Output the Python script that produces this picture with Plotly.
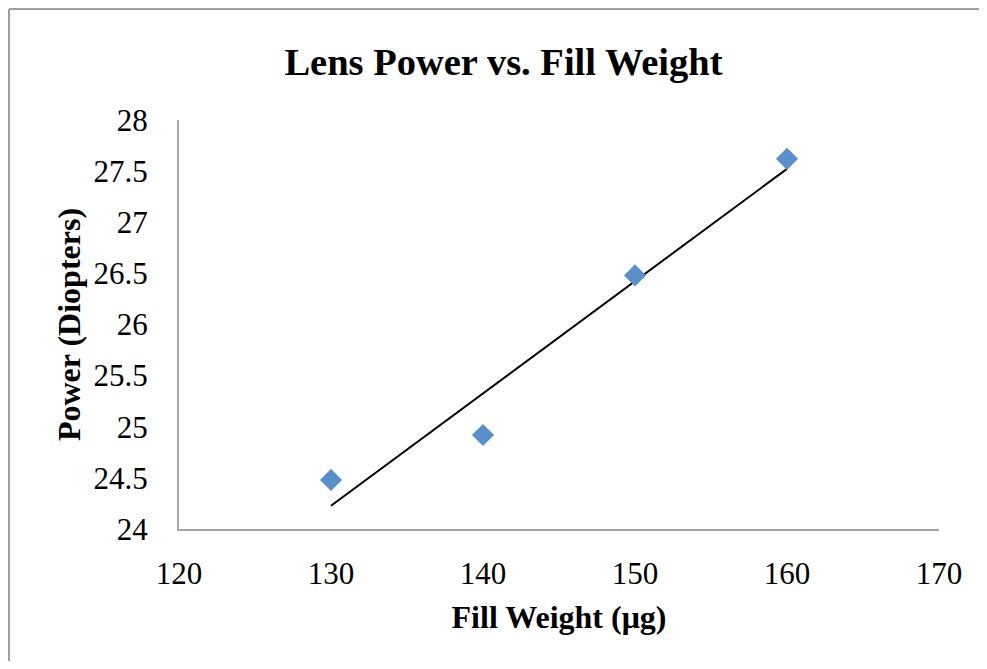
import numpy as np
import plotly.graph_objects as go

fill_weight = [130, 140, 150, 160]
lens_power = [24.48, 24.92, 26.48, 27.62]

x_ticks = [120, 130, 140, 150, 160, 170]
y_ticks = [24, 24.5, 25, 25.5, 26, 26.5, 27, 27.5, 28]
y_tick_text = ["24", "24.5", "25", "25.5", "26", "26.5", "27", "27.5", "28"]

slope, intercept = np.polyfit(fill_weight, lens_power, 1)
trend_x = [min(fill_weight), max(fill_weight)]
trend_y = [slope * v + intercept for v in trend_x]

FONT = "Liberation Serif, Times New Roman, serif"

# page body has an 8px margin; the figure is sized to fit the window without scrollbars
W, H = 971, 653
L, T, PW, PH = 171, 112, 760, 409

fig = go.Figure()
fig.add_trace(go.Scatter(x=trend_x, y=trend_y, mode="lines",
                         line=dict(color="black", width=2), showlegend=False,
                         hoverinfo="skip"))
fig.add_trace(go.Scatter(x=fill_weight, y=lens_power, mode="markers",
                         marker=dict(symbol="diamond", size=17, color="#5B8FCA",
                                     line=dict(width=0)),
                         showlegend=False))

border = dict(color="#A0A0A0", width=2)
left_x = (1 - L) / PW
top_y = (T + PH - 1) / PH
fig.update_layout(
    width=W, height=H,
    margin=dict(l=L, r=W - L - PW, t=T, b=H - T - PH),
    paper_bgcolor="white", plot_bgcolor="white",
    font=dict(family=FONT, size=31, color="black"),
    title=dict(text="<b>Lens Power vs. Fill Weight</b>", x=495.5 / W, xanchor="center",
               y=1 - 54 / H, yref="container", yanchor="middle",
               font=dict(family=FONT, size=38.5, color="black")),
    xaxis=dict(range=[120, 170], tickvals=x_ticks, showgrid=False, zeroline=False,
               showline=True, linecolor="#A6A6A6", linewidth=2, ticks="",
               ticklabelstandoff=16,
               title=dict(text="<b>Fill Weight (μg)</b>", standoff=15,
                          font=dict(family=FONT, size=32))),
    yaxis=dict(range=[24, 28], tickvals=y_ticks, ticktext=y_tick_text, showgrid=False,
               zeroline=False, showline=True, linecolor="#A6A6A6", linewidth=2,
               ticks="", ticklabelstandoff=23,
               title=dict(text="<b>Power (Diopters)</b>", standoff=3,
                          font=dict(family=FONT, size=32))),
    shapes=[
        dict(type="line", xref="paper", yref="paper", x0=left_x, x1=left_x,
             y0=(T + PH - H - 20) / PH, y1=top_y, line=border, layer="below"),
        dict(type="line", xref="paper", yref="paper", x0=left_x, x1=(W + 20 - L) / PW,
             y0=top_y, y1=top_y, line=border, layer="below"),
    ],
)

fig.write_html("out.html")
